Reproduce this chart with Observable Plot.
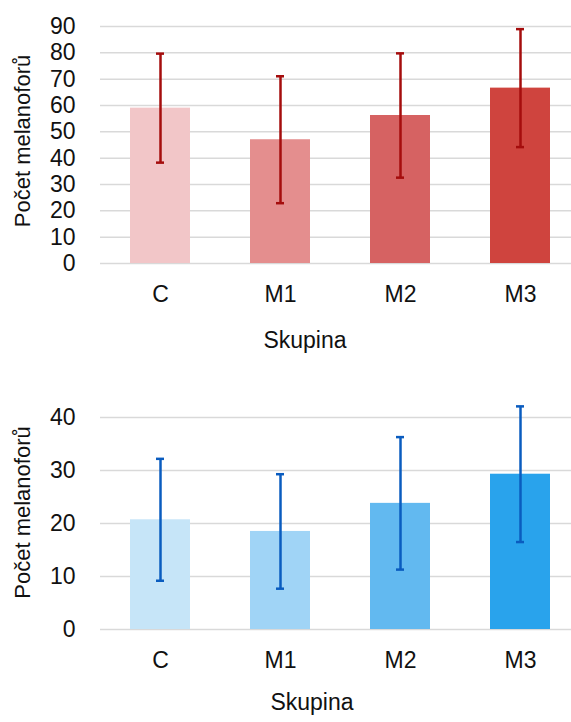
<!DOCTYPE html>
<html>
<head>
<meta charset="utf-8">
<script src="https://cdn.jsdelivr.net/npm/d3@7"></script>
<script src="https://cdn.jsdelivr.net/npm/@observablehq/plot@0.6"></script>
<style>
  body { margin: 0; background: #fff; }
  #chart { width: 571px; }
  svg { display: block; overflow: visible; }
</style>
</head>
<body>
<div id="chart"></div>
<script>
const groups = ["C", "M1", "M2", "M3"];
// top panel
const topMeans = [59, 47, 56.2, 66.6];
const topSD = [20.7, 24.1, 23.6, 22.4];
const topColors = ["#f2c6c8", "#e48e8e", "#d66262", "#cf443e"];
const topErrColor = "#a50d0d";
const topTicks = [0, 10, 20, 30, 40, 50, 60, 70, 80, 90];
// bottom panel
const botMeans = [20.7, 18.5, 23.8, 29.3];
const botSD = [11.5, 10.8, 12.5, 12.8];
const botColors = ["#c6e5f8", "#a0d4f6", "#62b9f0", "#29a3ec"];
const botErrColor = "#0a5cbf";
const botTicks = [0, 10, 20, 30, 40];

const yLabel = "Počet melanoforů";
const xLabel = "Skupina";
const FONT = "'Liberation Sans Narrow', 'Arial Narrow', 'Liberation Sans', Arial, sans-serif";

function panel({means, sds, colors, errColor, ticks, ymax, height, marginTop, marginBottom, xLabelDx, xLabelDy, yLabelDy}) {
  const data = groups.map((g, i) => ({g, v: means[i], lo: means[i] - sds[i], hi: means[i] + sds[i], c: colors[i]}));
  return Plot.plot({
    width: 571,
    height,
    marginLeft: 100,
    marginRight: 0,
    marginTop,
    marginBottom,
    style: {fontFamily: FONT, fontSize: "23px", color: "#111", background: "#fff"},
    x: {domain: groups, range: [100, 580], paddingInner: 0.5, paddingOuter: 0.25, align: 0.5, label: null},
    y: {domain: [0, ymax], ticks, label: null},
    marks: [
      Plot.ruleY(ticks, {stroke: "#d9d9d9", strokeWidth: 1.5}),
      Plot.barY(data, {x: "g", y: "v", fill: "c"}),
      Plot.ruleX(data, {x: "g", y1: "lo", y2: "hi", stroke: errColor, strokeWidth: 2.5}),
      Plot.tickY(data, {x: "g", y: "lo", stroke: errColor, strokeWidth: 2.5, insetLeft: 26, insetRight: 26}),
      Plot.tickY(data, {x: "g", y: "hi", stroke: errColor, strokeWidth: 2.5, insetLeft: 26, insetRight: 26}),
      Plot.axisY(ticks, {tickSize: 0, tickPadding: 25, label: null, fontSize: 23}),
      Plot.axisX({tickSize: 0, tickPadding: 22, label: null, fontSize: 23}),
      Plot.text([xLabel], {frameAnchor: "bottom", dx: xLabelDx, dy: xLabelDy, fontSize: 23, fill: "#111"}),
      Plot.text([yLabel], {frameAnchor: "left", textAnchor: "middle", dx: -78, dy: yLabelDy, rotate: -90, fontSize: 22, fill: "#111"})
    ]
  });
}

const chart = document.getElementById("chart");
chart.append(panel({means: topMeans, sds: topSD, colors: topColors, errColor: topErrColor, ticks: topTicks, ymax: 90, height: 370, marginTop: 26, marginBottom: 107, xLabelDx: -31, xLabelDy: 84, yLabelDy: -4}));
chart.append(panel({means: botMeans, sds: botSD, colors: botColors, errColor: botErrColor, ticks: botTicks, ymax: 40, height: 352, marginTop: 47, marginBottom: 93, xLabelDx: -24, xLabelDy: 80, yLabelDy: -11}));
</script>
</body>
</html>
